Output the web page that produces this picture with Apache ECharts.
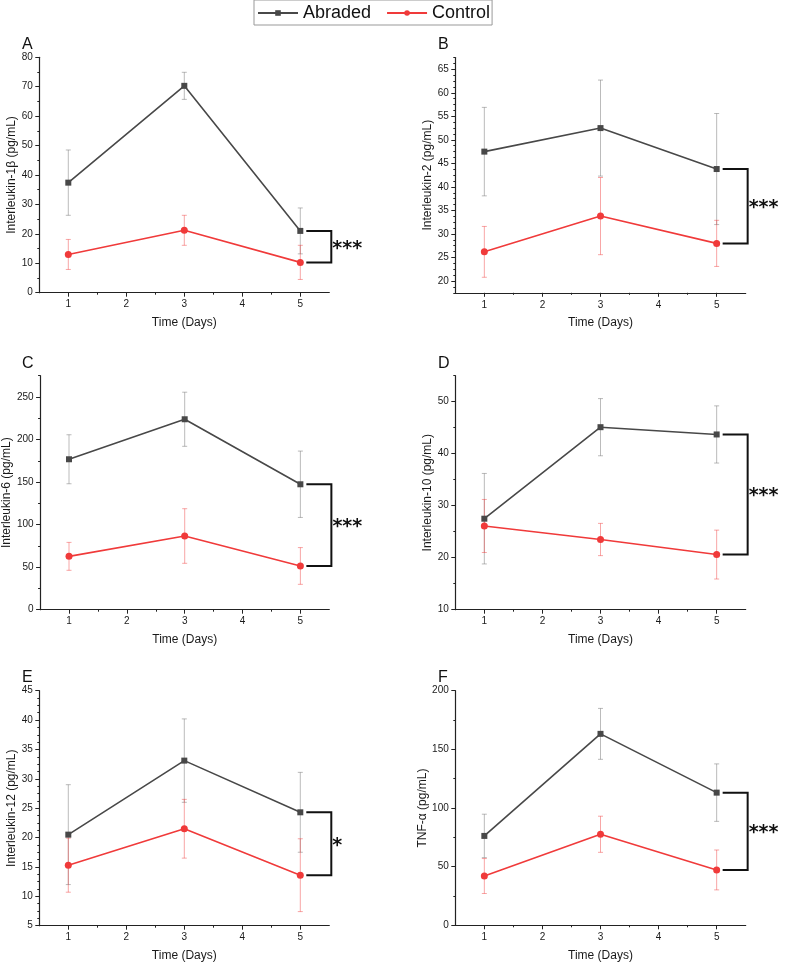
<!DOCTYPE html>
<html><head><meta charset="utf-8">
<script src="https://cdn.jsdelivr.net/npm/echarts@6/dist/echarts.min.js"></script>
<style>html,body{margin:0;padding:0;background:#fff}#c{width:788px;height:963px}</style>
</head><body><div id="c"></div>
<script>
// ---------- data ----------
const days = [1, 3, 5];
const xTickLabels = [1, 2, 3, 4, 5];
const seriesNames = ['Abraded', 'Control'];
const panelLetters = ['A', 'B', 'C', 'D', 'E', 'F'];
const yTitles = ['Interleukin-1β (pg/mL)', 'Interleukin-2 (pg/mL)', 'Interleukin-6 (pg/mL)',
                 'Interleukin-10 (pg/mL)', 'Interleukin-12 (pg/mL)', 'TNF-α (pg/mL)'];
const significance = ['***', '***', '***', '***', '*', '***'];

const il1bAbraded = [37.4, 70.3, 21.0];  const il1bAbradedSD = [11.1, 4.6, 7.8];
const il1bControl = [13.0, 21.2, 10.3];  const il1bControlSD = [5.1, 5.1, 5.8];
const il2Abraded  = [47.5, 52.5, 43.8];  const il2AbradedSD  = [9.4, 10.2, 11.8];
const il2Control  = [26.2, 33.8, 28.0];  const il2ControlSD  = [5.4, 8.2, 4.9];
const il6Abraded  = [176.8, 223.8, 147.4]; const il6AbradedSD = [28.8, 31.8, 39.0];
const il6Control  = [62.7, 86.6, 51.4];  const il6ControlSD  = [16.4, 32.1, 21.6];
const il10Abraded = [27.5, 45.1, 43.7];  const il10AbradedSD = [8.7, 5.5, 5.5];
const il10Control = [26.1, 23.5, 20.6];  const il10ControlSD = [5.1, 3.1, 4.7];
const il12Abraded = [20.5, 33.1, 24.3];  const il12AbradedSD = [8.5, 7.1, 6.8];
const il12Control = [15.3, 21.5, 13.6];  const il12ControlSD = [4.6, 5.0, 6.2];
const tnfAbraded  = [76.2, 163.2, 113.1]; const tnfAbradedSD = [18.5, 21.7, 24.5];
const tnfControl  = [42.0, 77.6, 47.2];  const tnfControlSD  = [14.9, 15.4, 17.0];

const yTicksA = [0, 10, 20, 30, 40, 50, 60, 70, 80];
const yTicksB = [20, 25, 30, 35, 40, 45, 50, 55, 60, 65];
const yTicksC = [0, 50, 100, 150, 200, 250];
const yTicksD = [10, 20, 30, 40, 50];
const yTicksE = [5, 10, 15, 20, 25, 30, 35, 40, 45];
const yTicksF = [0, 50, 100, 150, 200];

// ---------- layout / style ----------
const FONT = 'Liberation Sans, Arial, sans-serif';
const STAR_FONT = 'DejaVu Sans, sans-serif';
const TXT = '#1a1a1a';
const AX = '#222';
const ABR = '#484848', ABR_ERR = 'rgba(120,120,120,0.5)';
const CTL = '#f03a3a', CTL_ERR = 'rgba(240,58,58,0.45)';

const panels = [
  {abr: il1bAbraded, abrSD: il1bAbradedSD, ctl: il1bControl, ctlSD: il1bControlSD, ticks: yTicksA, min: 0, max: 80, minorStep: 5,
   grid: {left: 39.3, top: 57.3, width: 290, height: 235.4}},
  {abr: il2Abraded, abrSD: il2AbradedSD, ctl: il2Control, ctlSD: il2ControlSD, ticks: yTicksB, min: 17.5, max: 67.5, minorStep: 1.25,
   grid: {left: 455.3, top: 57.5, width: 290.4, height: 235.3}},
  {abr: il6Abraded, abrSD: il6AbradedSD, ctl: il6Control, ctlSD: il6ControlSD, ticks: yTicksC, min: 0, max: 275, minorStep: 25,
   grid: {left: 39.3, top: 375.7, width: 290, height: 234}},
  {abr: il10Abraded, abrSD: il10AbradedSD, ctl: il10Control, ctlSD: il10ControlSD, ticks: yTicksD, min: 10, max: 55, minorStep: 5,
   grid: {left: 455.3, top: 375.7, width: 290.4, height: 234}},
  {abr: il12Abraded, abrSD: il12AbradedSD, ctl: il12Control, ctlSD: il12ControlSD, ticks: yTicksE, min: 5, max: 45, minorStep: 1.25,
   grid: {left: 39.3, top: 690.7, width: 290, height: 235}},
  {abr: tnfAbraded, abrSD: tnfAbradedSD, ctl: tnfControl, ctlSD: tnfControlSD, ticks: yTicksF, min: 0, max: 200, minorStep: 25,
   grid: {left: 455.3, top: 690.7, width: 290.4, height: 234.6}}
];
const letterPos = [[22, 37], [438, 37], [22, 356], [438, 356], [22, 670], [438, 670]];

const grids = [], xAxes = [], yAxes = [], series = [], titles = [];

function minorValues(min, max, step, majors) {
  const out = [];
  for (let v = min; v <= max + 1e-9; v += step) {
    const r = Math.round(v * 1000) / 1000;
    if (!majors.some(m => Math.abs(m - r) < 1e-6)) out.push(r);
  }
  return out;
}

function errRenderer(color) {
  return function (params, api) {
    const x = api.value(0), lo = api.value(1), hi = api.value(2);
    const a = api.coord([x, lo]), b = api.coord([x, hi]);
    const cap = 2.5;
    const style = {stroke: color, lineWidth: 1, fill: null};
    return {type: 'group', children: [
      {type: 'line', shape: {x1: a[0], y1: a[1], x2: b[0], y2: b[1]}, style},
      {type: 'line', shape: {x1: a[0] - cap, y1: a[1], x2: a[0] + cap, y2: a[1]}, style},
      {type: 'line', shape: {x1: b[0] - cap, y1: b[1], x2: b[0] + cap, y2: b[1]}, style}
    ]};
  };
}

function bracketRenderer(sig) {
  return function (params, api) {
    const x = api.value(0), top = api.value(1), bot = api.value(2);
    const t = api.coord([x, top]), b = api.coord([x, bot]);
    const x0 = t[0] + 6, x1 = t[0] + 31;
    return {type: 'group', children: [
      {type: 'polyline', shape: {points: [[x0, t[1]], [x1, t[1]], [x1, b[1]], [x0, b[1]]]},
       style: {stroke: '#111', lineWidth: 2, fill: null}},
      {type: 'text', x: x1 + 1, y: (t[1] + b[1]) / 2 + 2,
       style: {text: sig, fontSize: 19, fontWeight: 'bold', fontFamily: STAR_FONT, fill: '#111',
               align: 'left', verticalAlign: 'middle'}}
    ]};
  };
}

panels.forEach((p, i) => {
  grids.push(Object.assign({containLabel: false}, p.grid));
  const xi = xAxes.length, yi = yAxes.length;
  xAxes.push({
    type: 'value', gridIndex: i, position: 'bottom', min: 0.5, max: 5.5,
    axisLine: {onZero: false, lineStyle: {color: AX, width: 1.2}},
    axisTick: {customValues: xTickLabels, length: 4, lineStyle: {color: AX, width: 1}},
    axisLabel: {customValues: xTickLabels, fontSize: 10, margin: 7, color: TXT, fontFamily: FONT},
    splitLine: {show: false},
    name: 'Time (Days)', nameLocation: 'middle', nameGap: 24,
    nameTextStyle: {fontSize: 12, color: TXT, fontFamily: FONT}
  });
  xAxes.push({
    type: 'value', gridIndex: i, position: 'bottom', min: 0.5, max: 5.5,
    axisLine: {show: false, onZero: false},
    axisTick: {customValues: [1.5, 2.5, 3.5, 4.5], length: 2, lineStyle: {color: AX, width: 1}},
    axisLabel: {show: false}, splitLine: {show: false}
  });
  yAxes.push({
    type: 'value', gridIndex: i, position: 'left', min: p.min, max: p.max,
    axisLine: {show: true, onZero: false, lineStyle: {color: AX, width: 1.2}},
    axisTick: {show: true, customValues: p.ticks, length: 4, lineStyle: {color: AX, width: 1}},
    axisLabel: {customValues: p.ticks, fontSize: 10, margin: 6.5, color: TXT, fontFamily: FONT},
    splitLine: {show: false},
    name: yTitles[i], nameLocation: 'middle', nameGap: 22,
    nameTextStyle: {fontSize: 12, color: TXT, fontFamily: FONT}
  });
  yAxes.push({
    type: 'value', gridIndex: i, position: 'left', min: p.min, max: p.max,
    axisLine: {show: false, onZero: false},
    axisTick: {show: true, customValues: minorValues(p.min, p.max, p.minorStep, p.ticks), length: 2, lineStyle: {color: AX, width: 1}},
    axisLabel: {show: false}, splitLine: {show: false}
  });

  const errData = (vals, sd) => days.map((d, j) => [d, vals[j] - sd[j], vals[j] + sd[j]]);
  series.push({type: 'custom', xAxisIndex: xi, yAxisIndex: yi, z: 1, silent: true,
    renderItem: errRenderer(ABR_ERR), encode: {x: 0, y: [1, 2]}, data: errData(p.abr, p.abrSD)});
  series.push({type: 'custom', xAxisIndex: xi, yAxisIndex: yi, z: 1, silent: true,
    renderItem: errRenderer(CTL_ERR), encode: {x: 0, y: [1, 2]}, data: errData(p.ctl, p.ctlSD)});
  series.push({type: 'line', name: seriesNames[0], xAxisIndex: xi, yAxisIndex: yi, z: 3,
    data: days.map((d, j) => [d, p.abr[j]]), symbol: 'rect', symbolSize: 6, showSymbol: true,
    lineStyle: {color: ABR, width: 1.6}, itemStyle: {color: ABR}, animation: false});
  series.push({type: 'line', name: seriesNames[1], xAxisIndex: xi, yAxisIndex: yi, z: 3,
    data: days.map((d, j) => [d, p.ctl[j]]), symbol: 'circle', symbolSize: 7, showSymbol: true,
    lineStyle: {color: CTL, width: 1.6}, itemStyle: {color: CTL}, animation: false});
  series.push({type: 'custom', xAxisIndex: xi, yAxisIndex: yi, z: 4, silent: true, clip: false,
    renderItem: bracketRenderer(significance[i]), encode: {x: 0, y: [1, 2]},
    data: [[days[2], p.abr[2], p.ctl[2]]]});

  titles.push({text: panelLetters[i], left: letterPos[i][0], top: letterPos[i][1], padding: 0,
    textStyle: {fontSize: 16, fontWeight: 'normal', color: '#111', fontFamily: FONT}});
});

const chart = echarts.init(document.getElementById('c'), null, {renderer: 'canvas'});
chart.setOption({
  animation: false,
  backgroundColor: '#fff',
  title: titles,
  legend: {
    data: seriesNames, left: 254, top: 0, padding: [4, 2, 3, 3], itemGap: 15,
    itemWidth: 40, itemHeight: 7, borderColor: '#999', borderWidth: 1,
    textStyle: {fontSize: 18, color: '#111', fontFamily: FONT}
  },
  grid: grids, xAxis: xAxes, yAxis: yAxes, series: series
});
</script></body></html>
